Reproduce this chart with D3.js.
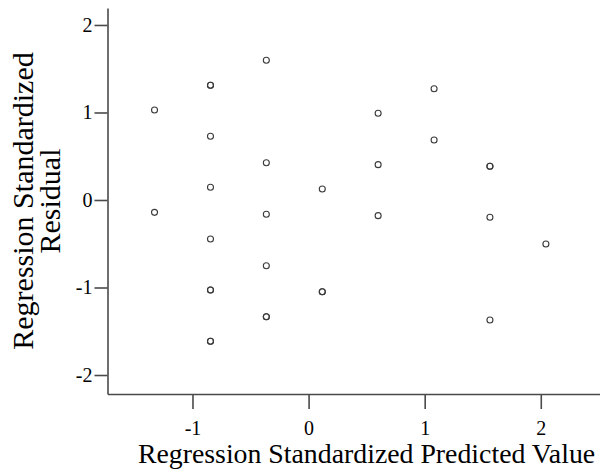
<!DOCTYPE html>
<html>
<head>
<meta charset="utf-8">
<script src="https://cdn.jsdelivr.net/npm/d3@7"></script>
<style>
  html, body { margin: 0; padding: 0; background: #fff; }
  svg { display: block; }
</style>
</head>
<body>
<svg id="chart" width="600" height="476"></svg>
<script>
// Data (standardized predicted value, standardized residual)
const predicted = [
  -1.327, -1.327,
  -0.845, -0.845, -0.845, -0.845, -0.845, -0.845, -0.845, -0.845, -0.845,
  -0.364, -0.364, -0.364, -0.364, -0.364, -0.364,
  0.118, 0.118, 0.118,
  0.599, 0.599, 0.599,
  1.081, 1.081,
  1.562, 1.562, 1.562, 1.562,
  2.044
];
const residual = [
  1.029, -0.141,
  1.311, 1.311, 0.728, 0.145, -0.446, -1.029, -1.029, -1.615, -1.615,
  1.597, 0.426, -0.163, -0.751, -1.334, -1.334,
  0.126, -1.048, -1.048,
  0.991, 0.404, -0.179,
  1.272, 0.686,
  0.385, 0.385, -0.198, -1.371,
  -0.503
];
const xTicks = [-1, 0, 1, 2];
const yTicks = [-2, -1, 0, 1, 2];
const xTitle = "Regression Standardized Predicted Value";
const yTitleLines = ["Regression Standardized", "Residual"];

const svg = d3.select("#chart");
const mLeft = 107.5, mRight = 600, mTop = 8, mBottom = 394;

const x = d3.scaleLinear().domain([-1.732, 2.51]).range([mLeft, mRight]);
const y = d3.scaleLinear().domain([-2.217, 2.194]).range([mBottom, mTop]);

const axisColor = "#4a4a4a";
const font = "'Liberation Serif', 'Times New Roman', serif";

// X axis
const gx = svg.append("g").attr("transform", `translate(0,${mBottom})`)
  .call(d3.axisBottom(x).tickValues(xTicks).tickFormat(d3.format("d"))
    .tickSizeOuter(0).tickSizeInner(15).tickPadding(12));
// Y axis
const gy = svg.append("g").attr("transform", `translate(${mLeft},0)`)
  .call(d3.axisLeft(y).tickValues(yTicks).tickFormat(d3.format("d"))
    .tickSizeOuter(0).tickSizeInner(13).tickPadding(2));

[gx, gy].forEach(g => {
  g.attr("font-family", font).attr("font-size", 20);
  g.select(".domain").attr("stroke", axisColor).attr("stroke-width", 1.6);
  g.selectAll(".tick line").attr("stroke", axisColor).attr("stroke-width", 1.6);
  g.selectAll(".tick text").attr("fill", "#000")
    .style("font-family", font).style("font-size", "20px");
});
gx.selectAll(".tick text").text(d => d < 0 ? "-" + Math.abs(d) : d);
gy.selectAll(".tick text").text(d => d < 0 ? "-" + Math.abs(d) : d);

// Points
const pts = predicted.map((p, i) => ({ p, r: residual[i] }));
svg.append("g").selectAll("circle").data(pts).join("circle")
  .attr("cx", d => x(d.p))
  .attr("cy", d => y(d.r))
  .attr("r", 3)
  .attr("fill", "none")
  .attr("stroke", "#3a3a3a")
  .attr("stroke-width", 1.1);

// Axis titles
svg.append("text")
  .attr("x", 366.5).attr("y", 463)
  .attr("text-anchor", "middle")
  .style("font-family", font).style("font-size", "27.8px")
  .attr("fill", "#000")
  .text(xTitle);

const yt = svg.append("text")
  .attr("transform", "translate(33,201) rotate(-90)")
  .attr("text-anchor", "middle")
  .style("font-family", font).style("font-size", "30px")
  .attr("fill", "#000");
yTitleLines.forEach((t, i) => {
  yt.append("tspan").attr("x", 0).attr("y", i * 27).text(t);
});
</script>
</body>
</html>
